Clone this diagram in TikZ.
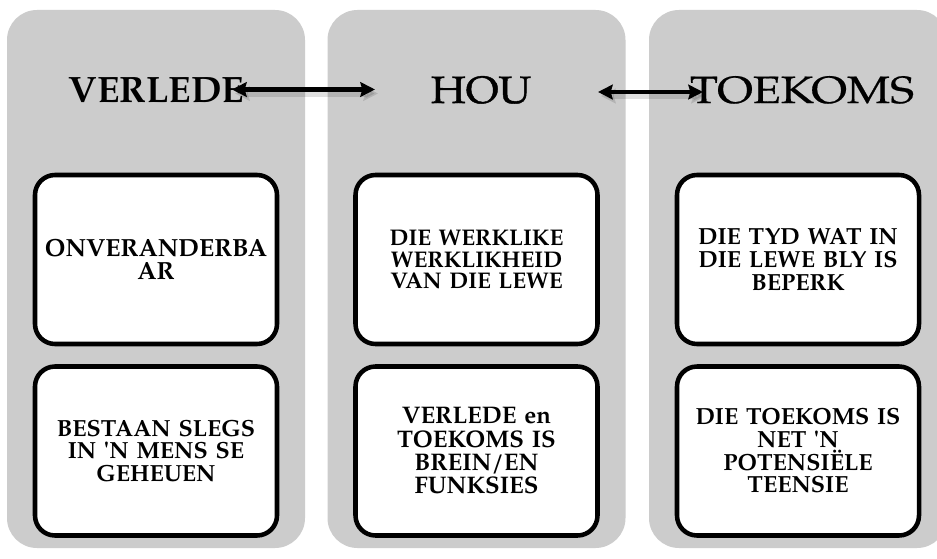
\documentclass[tikz,border=0pt]{standalone}
\usepackage{fontspec}
\setmainfont{TeX Gyre Pagella}
\usetikzlibrary{arrows.meta}
\definecolor{colgray}{HTML}{CCCCCC}
\newcommand{\apos}{\textquotesingle}
\begin{document}
\begin{tikzpicture}[x=0.75pt,y=-0.75pt,
  column/.style={fill=colgray, draw=none, rounded corners=22.5pt,
    minimum width=223.5pt, minimum height=403.5pt, inner sep=0pt},
  card/.style={fill=white, draw=black, line width=3.4pt, rounded corners=15pt,
    minimum width=181.5pt, minimum height=126.75pt, inner sep=0pt,
    align=center, text width=176pt,
    font=\fontsize{17.5}{17}\selectfont\bfseries},
  header/.style={anchor=base, inner sep=0pt, font=\fontsize{28.5}{30}\selectfont},
  link/.style={line width=3.4pt, {Stealth[length=11pt,width=11pt,inset=1.5pt]}-{Stealth[length=11pt,width=11pt,inset=1.5pt]}},
  linkshade/.style={link, draw=black, opacity=0.12, line width=5pt}
]
\path[use as bounding box] (0,0) rectangle (937,559);
\clip (0,0) rectangle (937,559);
\fill[white] (0,0) rectangle (937,559);

% three columns
\node[column] (c1) at (156,279) {};
\node[column] (c2) at (476.5,279) {};
\node[column] (c3) at (798,279) {};

% column titles
\node[header, font=\fontsize{27.5}{30}\selectfont\bfseries] (h1) at (156.5,103) {VERLEDE};
\node[header] (h2) at (481,103) {\scalebox{1.1}[1]{\addfontfeature{FakeBold=1.1}HOU}};
\node[header] (h3) at (802,103) {\scalebox{1.2}[1]{\addfontfeature{FakeBold=0.4}TOEKOMS}};

% cards
\node[card, font=\fontsize{18.6}{17}\selectfont\bfseries] (b11) at (156,259.5) {ONVERANDERBA\\AR};
\node[card] (b12) at (156,451) {BESTAAN SLEGS\\IN \apos N MENS SE\\GEHEUEN};
\node[card, font=\fontsize{17}{16}\selectfont\bfseries] (b21) at (476.5,259.5) {DIE WERKLIKE\\WERKLIKHEID\\VAN DIE LEWE};
\node[card, font=\fontsize{18}{17.5}\selectfont\bfseries] (b22) at (476.5,451) {VERLEDE en\\TOEKOMS IS\\BREIN/EN\\FUNKSIES};
\node[card] (b31) at (798,259.5) {DIE TYD WAT IN\\DIE LEWE BLY IS\\BEPERK};
\node[card] (b32) at (798,451) {DIE TOEKOMS IS\\NET \apos N\\POTENSIËLE\\TEENSIE};

% arrow ends
\coordinate (p1) at (232,89.5);
\coordinate (p2) at (375,89.5);
\coordinate (q1) at (598,92);
\coordinate (q2) at (703,92);
\coordinate (p1s) at (235,93.5);
\coordinate (p2s) at (378,93.5);
\coordinate (q1s) at (601,96);
\coordinate (q2s) at (706,96);

% soft shadows under the arrows
\draw[linkshade] (p1s) -- (p2s);
\draw[linkshade] (q1s) -- (q2s);
% double-headed arrows
\draw[link] (p1) -- (p2);
\draw[link] (q1) -- (q2);
\end{tikzpicture}
\end{document}
